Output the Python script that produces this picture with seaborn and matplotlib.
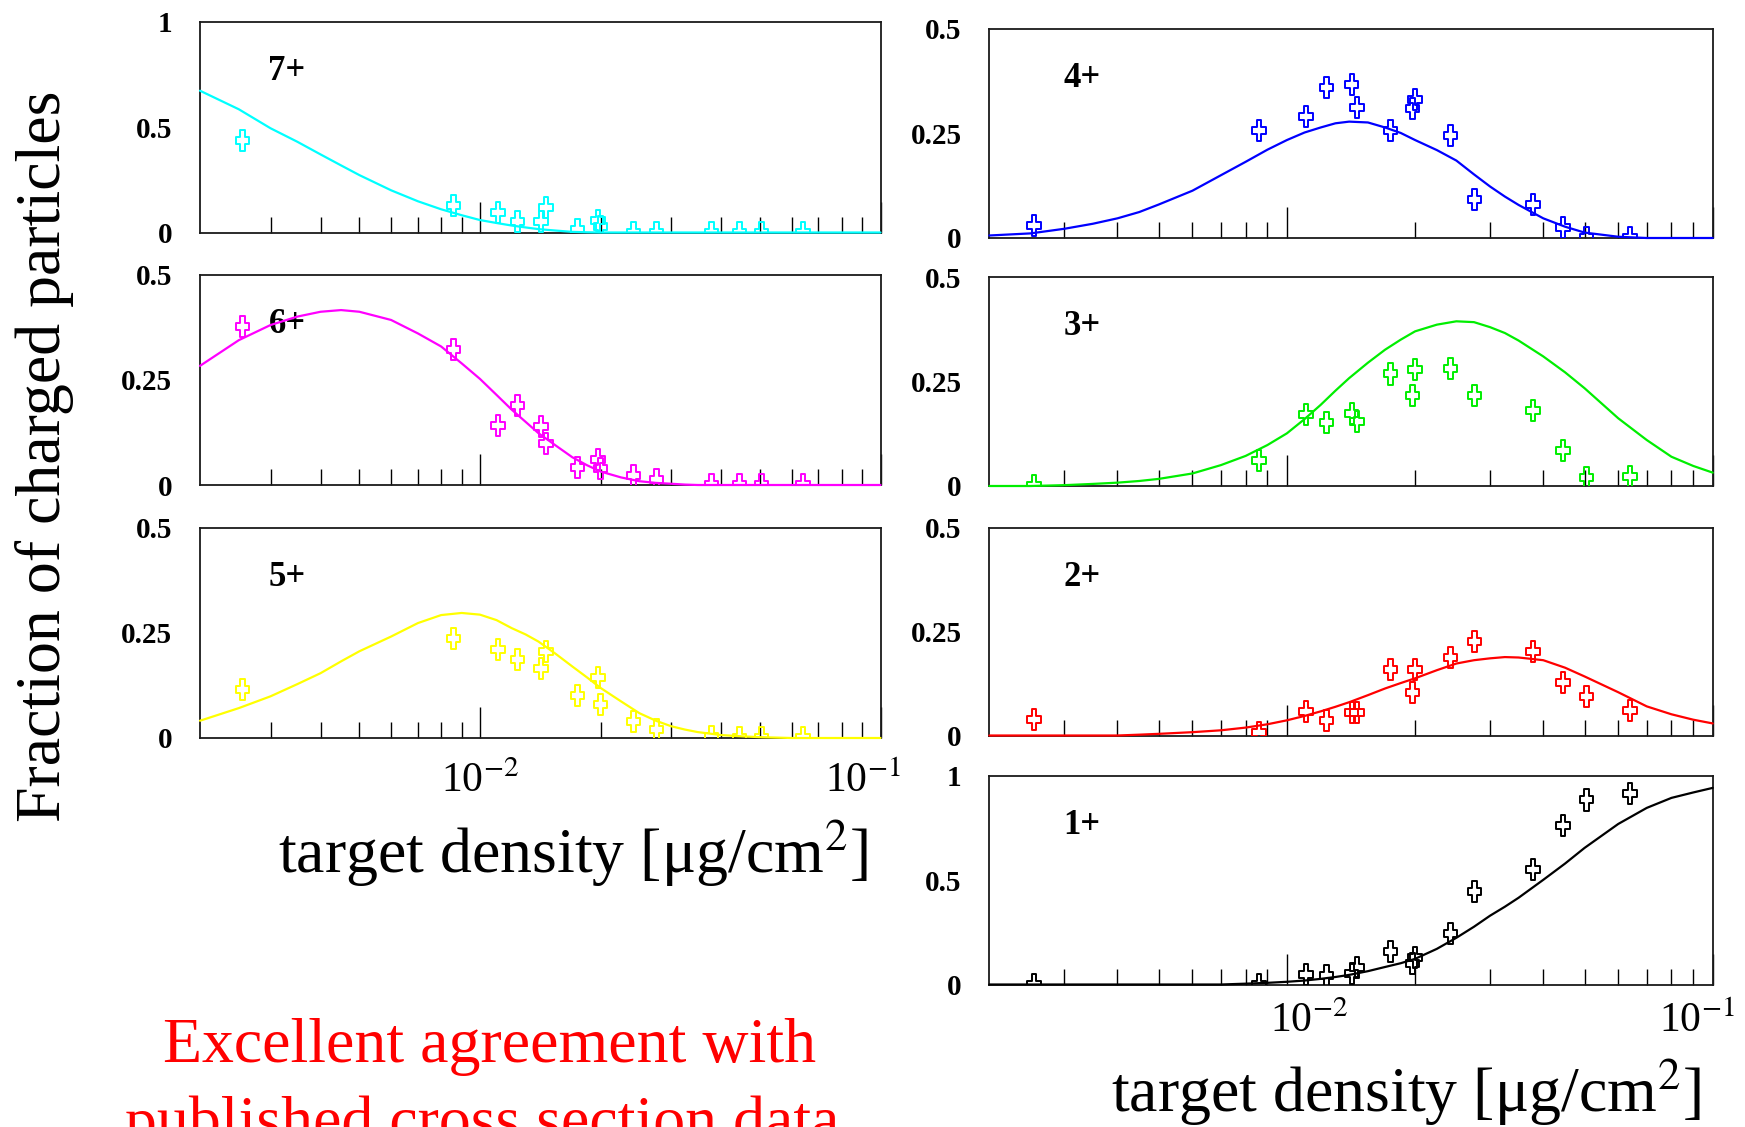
import matplotlib
matplotlib.use("Agg")
import matplotlib.pyplot as plt
import matplotlib.transforms as mtransforms
from matplotlib.path import Path
from matplotlib.ticker import FixedLocator, NullFormatter
import seaborn as sns

# ---------------- data ----------------
x_meas = [2.55e-3, 8.6e-3, 1.11e-2, 1.24e-2, 1.42e-2, 1.46e-2, 1.75e-2, 1.97e-2,
          2.0e-2, 2.42e-2, 2.76e-2, 3.78e-2, 4.45e-2, 5.05e-2, 6.4e-2]

meas_7 = [0.438, 0.127, 0.095, 0.05, 0.05, 0.12, 0.015, 0.055, 0.027, 0.0, 0.0, 0.0, 0.0, 0.0, 0.0]
meas_6 = [0.376, 0.321, 0.141, 0.189, 0.139, 0.0995, 0.042, 0.060, 0.040, 0.023, 0.0126, 0.0, 0.0, 0.0, 0.0]
meas_5 = [0.116, 0.237, 0.210, 0.1875, 0.166, 0.206, 0.100, 0.144, 0.079, 0.040, 0.020, 0.003, 0.0, 0.0, 0.0]
meas_4 = [0.030, 0.256, 0.290, 0.359, 0.367, 0.312, 0.256, 0.310, 0.331, 0.244, 0.093, 0.079, 0.025, 0.0, 0.0]
meas_3 = [0.0, 0.061, 0.170, 0.152, 0.174, 0.154, 0.268, 0.216, 0.278, 0.280, 0.216, 0.180, 0.085, 0.021, 0.022]
meas_2 = [0.038, 0.008, 0.058, 0.035, 0.056, 0.056, 0.159, 0.104, 0.159, 0.1875, 0.226, 0.202, 0.128, 0.094, 0.061]
meas_1 = [0.0, 0.0, 0.048, 0.042, 0.052, 0.080, 0.157, 0.100, 0.130, 0.243, 0.444, 0.550, 0.764, 0.885, 0.918]

curve_x = [2e-3, 2.5e-3, 3e-3, 3.5e-3, 4e-3, 4.5e-3, 5e-3, 6e-3, 7e-3, 8e-3, 9e-3, 1e-2,
           1.1e-2, 1.2e-2, 1.3e-2, 1.4e-2, 1.55e-2, 1.7e-2, 1.85e-2, 2e-2, 2.25e-2, 2.5e-2,
           2.75e-2, 3e-2, 3.25e-2, 3.5e-2, 4e-2, 4.5e-2, 5e-2, 6e-2, 7e-2, 8e-2, 9e-2, 1e-1]

curve_7 = [0.672, 0.584, 0.494, 0.430, 0.370, 0.318, 0.272, 0.200, 0.148, 0.110, 0.082, 0.059,
           0.045, 0.033, 0.024, 0.016, 0.009, 0.003, 0.001, 0.0, 0.0, 0.0,
           0.0, 0.0, 0.0, 0.0, 0.0, 0.0, 0.0, 0.0, 0.0, 0.0, 0.0, 0.0]
curve_6 = [0.283, 0.344, 0.380, 0.400, 0.4115, 0.4155, 0.4115, 0.392, 0.360, 0.329, 0.289, 0.252,
           0.214, 0.179, 0.150, 0.123, 0.093, 0.066, 0.047, 0.032, 0.018, 0.009,
           0.005, 0.003, 0.001, 0.0, 0.0, 0.0, 0.0, 0.0, 0.0, 0.0, 0.0, 0.0]
curve_5 = [0.041, 0.071, 0.099, 0.128, 0.154, 0.182, 0.206, 0.241, 0.273, 0.292, 0.297, 0.293,
           0.280, 0.261, 0.246, 0.229, 0.199, 0.170, 0.144, 0.119, 0.087, 0.059,
           0.041, 0.028, 0.020, 0.014, 0.007, 0.004, 0.002, 0.0, 0.0, 0.0, 0.0, 0.0]
curve_4 = [0.006, 0.011, 0.022, 0.034, 0.047, 0.062, 0.080, 0.113, 0.150, 0.182, 0.211, 0.234,
           0.252, 0.264, 0.274, 0.278, 0.276, 0.264, 0.251, 0.234, 0.210, 0.185,
           0.152, 0.123, 0.099, 0.079, 0.047, 0.027, 0.013, 0.003, 0.0, 0.0, 0.0, 0.0]
curve_3 = [0.0, 0.0, 0.002, 0.005, 0.008, 0.012, 0.017, 0.030, 0.050, 0.072, 0.098, 0.126,
           0.160, 0.194, 0.228, 0.258, 0.295, 0.326, 0.350, 0.370, 0.386, 0.394,
           0.392, 0.380, 0.366, 0.348, 0.310, 0.272, 0.234, 0.162, 0.110, 0.070, 0.048, 0.032]
curve_2 = [0.0, 0.0, 0.0, 0.0, 0.0, 0.002, 0.004, 0.008, 0.0125, 0.019, 0.027, 0.0365,
           0.047, 0.058, 0.069, 0.080, 0.097, 0.113, 0.126, 0.1375, 0.157, 0.173,
           0.181, 0.1855, 0.1885, 0.1875, 0.181, 0.163, 0.142, 0.104, 0.070, 0.051, 0.038, 0.029]
curve_1 = [0.0, 0.0, 0.0, 0.0, 0.0, 0.0, 0.0, 0.0, 0.0, 0.004, 0.008, 0.013,
           0.019, 0.027, 0.036, 0.046, 0.064, 0.084, 0.102, 0.123, 0.171, 0.224,
           0.277, 0.330, 0.373, 0.416, 0.502, 0.580, 0.655, 0.770, 0.847, 0.895, 0.921, 0.943]

labels = ["7+", "6+", "5+", "4+", "3+", "2+", "1+"]
colors = ["#00FFFF", "#FF00FF", "#FFFF00", "#0000FF", "#00EE00", "#FF0000", "#000000"]
ymaxes = [1.0, 0.5, 0.5, 0.5, 0.5, 0.5, 1.0]
ytick_text_half = ["0", "0.25", "0.5"]
ytick_text_full = ["0", "0.5", "1"]
major_x = [1e-2, 1e-1]
minor_x = [3e-3, 4e-3, 5e-3, 6e-3, 7e-3, 8e-3, 9e-3, 2e-2, 3e-2, 4e-2, 5e-2, 6e-2, 7e-2, 8e-2, 9e-2]
xtick_text = ["10$^{-2}$", "10$^{-1}$"]
meas = [meas_7, meas_6, meas_5, meas_4, meas_3, meas_2, meas_1]
curves = [curve_7, curve_6, curve_5, curve_4, curve_3, curve_2, curve_1]

# ---------------- style ----------------
sns.set_style("white")
plt.rcParams["font.family"] = ["Liberation Serif", "DejaVu Serif"]
plt.rcParams["mathtext.fontset"] = "stix"
plt.rcParams["text.color"] = "black"
plt.rcParams["xtick.color"] = "black"
plt.rcParams["ytick.color"] = "black"
plt.rcParams["axes.labelcolor"] = "black"

W, H = 1745, 1127
fig = plt.figure(figsize=(W / 100, H / 100), dpi=100)
fig.patch.set_facecolor("white")

# layout in pixels (left, right, top, bottom)
left_col = (200, 880.5)
right_col = (989.3, 1712.7)
rows = [
    (left_col, 21.5, 232.5), (left_col, 274.5, 485), (left_col, 527.5, 738),
    (right_col, 28.7, 238), (right_col, 277, 486), (right_col, 527.5, 735.5), (right_col, 776, 984.5),
]

# hollow, slightly tall plus marker (as in the original)
a = 1.0 / 3.0
sx = 0.64
pts = [(-a, 1), (a, 1), (a, a), (1, a), (1, -a), (a, -a), (a, -1), (-a, -1),
       (-a, -a), (-1, -a), (-1, a), (-a, a), (-a, 1)]
cross = Path([(px * sx, py) for px, py in pts], closed=True)

axes = []
for i, ((x0, x1), top, bot) in enumerate(rows):
    ax = fig.add_axes([x0 / W, 1 - bot / H, (x1 - x0) / W, (bot - top) / H])
    axes.append(ax)
    ax.set_xscale("log")
    col = colors[i]
    sns.lineplot(x=curve_x, y=curves[i], color=col, linewidth=1.6, ax=ax,
                 clip_on=False, zorder=4)
    sns.scatterplot(x=x_meas, y=meas[i], marker=cross, s=230, color=col,
                    facecolor="none", edgecolor=col, linewidth=1.4, ax=ax, zorder=5)
    ax.set_xlim(2e-3, 1e-1)
    ymax = ymaxes[i]
    ax.set_ylim(0, ymax)
    ax.set_xlabel("")
    ax.set_ylabel("")

    ax.xaxis.set_major_locator(FixedLocator(major_x))
    ax.xaxis.set_minor_locator(FixedLocator(minor_x))
    ax.xaxis.set_major_formatter(NullFormatter())
    ax.xaxis.set_minor_formatter(NullFormatter())
    ax.tick_params(axis="x", which="major", direction="in", length=22, width=1.0,
                   color="black", bottom=True, top=False, labelbottom=False)
    ax.tick_params(axis="x", which="minor", direction="in", length=11.5, width=1.0,
                   color="black", bottom=True, top=False)

    ax.yaxis.set_major_locator(FixedLocator([0, ymax / 2, ymax]))
    ax.set_yticklabels(ytick_text_full if ymax == 1.0 else ytick_text_half)
    ax.yaxis.set_minor_locator(FixedLocator([ymax / 2]))
    ax.tick_params(axis="y", which="major", length=0, pad=20, labelsize=21, left=True, right=False)
    ax.tick_params(axis="y", which="minor", direction="in", length=14.5, width=1.0,
                   color="black", left=True, right=False)
    for t in ax.get_yticklabels():
        t.set_fontweight("bold")

    for s in ax.spines.values():
        s.set_linewidth(1.3)
        s.set_color("#1a1a1a")
        s.set_zorder(2)

    ax.text(0.128, 0.762, labels[i], transform=ax.transAxes, ha="center", va="center",
            fontsize=25, fontweight="bold")

# x tick labels on the bottom panels of each column
def xlabels(ax, offsets, drop_px):
    for xv, txt, dx in zip(major_x, xtick_text, offsets):
        tr = mtransforms.blended_transform_factory(ax.transData, ax.transAxes) + \
            mtransforms.ScaledTranslation(dx / 100, -drop_px / 100, fig.dpi_scale_trans)
        ax.text(xv, 0, txt, transform=tr, ha="center", va="baseline", fontsize=30)

xlabels(axes[2], [0, -18], 54)
xlabels(axes[6], [22, -16], 48)

# axis titles
fig.text(573 / W, 1 - 873 / H, "target density [μg/cm$^2$]", ha="center", va="baseline", fontsize=46)
fig.text(1406 / W, 1 - 1112 / H, "target density [μg/cm$^2$]", ha="center", va="baseline", fontsize=46)
fig.text(45 / W, 1 - 456 / H, "Fraction of charged particles", rotation=90,
         ha="center", va="center", fontsize=46)

# red comment (second line cut by the page edge as in the original)
fig.text(490 / W, 1 - 1062 / H, "Excellent agreement with", color="#FF0000",
         ha="center", va="baseline", fontsize=46)
fig.text(482 / W, 1 - 1140 / H, "published cross section data", color="#FF0000",
         ha="center", va="baseline", fontsize=46)

fig.savefig("out.png", dpi=100)
